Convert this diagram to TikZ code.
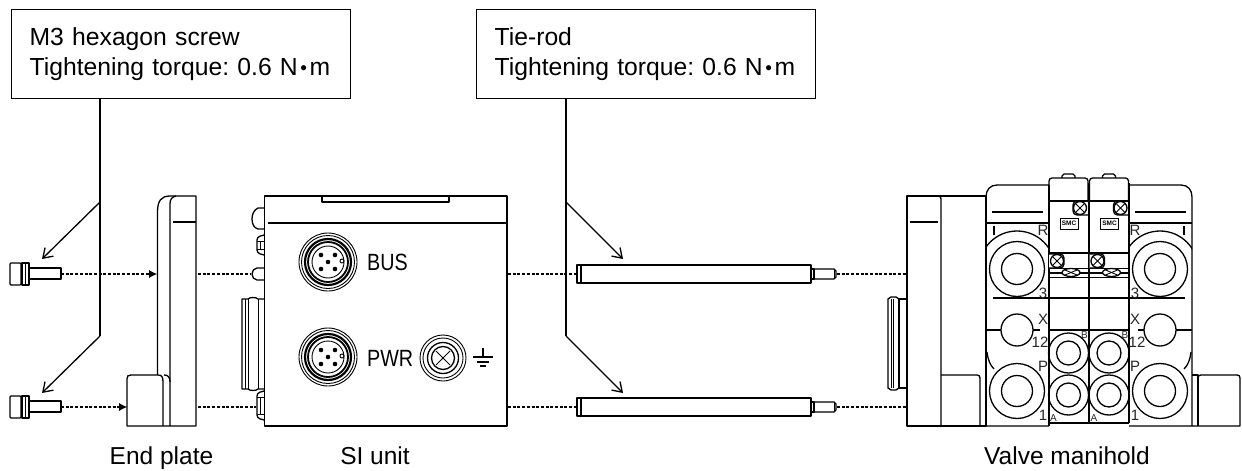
\documentclass[tikz,border=0pt]{standalone}
\usepackage{fontspec}
\setmainfont{Liberation Sans}
\frenchspacing
\usetikzlibrary{arrows.meta}
\newcommand{\nmdot}{N\hspace{2.5pt}\raisebox{0.8pt}{\fontsize{19}{19}\selectfont •}\hspace{2.5pt}m}
\tikzset{
  part/.style={line width=1.3pt, line join=round},
  thinpart/.style={line width=0.9pt},
  callout/.style={draw, line width=1.3pt, anchor=north west, minimum height=89pt, text width=303pt, inner xsep=18pt, align=left, font=\fontsize{24.7}{30}\selectfont},
  leader/.style={line width=1.3pt},
  pointer/.style={line width=1.3pt, -{Straight Barb[length=9pt,width=12pt]}},
  dotline/.style={line width=2.2pt, dash pattern=on 3pt off 1.7pt},
  dotarrow/.style={dotline, -{Latex[length=8pt,width=8pt,line width=0pt]}},
  caption/.style={anchor=base, font=\fontsize{24.5}{28}\selectfont},
  panel/.style={anchor=base west, inner sep=0pt, xscale=0.84, font=\fontsize{23.5}{28}\selectfont},
  port/.style={anchor=center, inner sep=0pt, text=black!85, font=\fontsize{15}{16}\selectfont},
  tinyport/.style={anchor=center, inner sep=0pt, text=black!85, font=\fontsize{10}{10}\selectfont},
  smcbox/.style={draw, line width=1pt, minimum width=18pt, minimum height=11pt, inner sep=0pt, font=\bfseries\fontsize{6.5}{7}\selectfont}
}
\begin{document}
\begin{tikzpicture}[x=1pt, y=-1pt]
    \useasboundingbox (0,0) rectangle (1242,471);

    % Callouts and leaders
    \node[callout] (screwnote) at (11,9) {M3 hexagon screw\\Tightening torque: 0.6 \nmdot};
    \node[callout] (rodnote) at (476,9) {Tie-rod\\Tightening torque: 0.6 \nmdot};
    \coordinate (screwjoin) at (100,202);
    \coordinate (screwtrunk) at (100,336);
    \coordinate (screwtipa) at (42,259);
    \coordinate (screwtipb) at (42,393);
    \coordinate (rodjoin) at (566,202);
    \coordinate (rodtrunk) at (566,336);
    \coordinate (rodtipa) at (623,259);
    \coordinate (rodtipb) at (623,393);
    \draw[leader] (screwnote.south -| screwtrunk) -- (screwtrunk);
    \draw[leader] (rodnote.south -| rodtrunk) -- (rodtrunk);
    \draw[pointer] (screwjoin) -- (screwtipa);
    \draw[pointer] (screwtrunk) -- (screwtipb);
    \draw[pointer] (rodjoin) -- (rodtipa);
    \draw[pointer] (rodtrunk) -- (rodtipb);

    % Dotted assembly lines
    \coordinate (screwenda) at (61,274);
    \coordinate (screwendb) at (61,407);
    \coordinate (platehit) at (157,274);
    \coordinate (foothit) at (127,407);
    \draw[dotarrow] (screwenda) -- (platehit);
    \draw[dotarrow] (screwendb) -- (foothit);
    \foreach \yy/\xa in {274/250, 407/256} {
      \draw[dotline] (198,\yy) -- (\xa,\yy);
      \draw[dotline] (508,\yy) -- (577,\yy);
      \draw[dotline] (837,\yy) -- (906,\yy);
    }

    % Screws
    \foreach \yy in {274,407} {
      \draw[part, rounded corners=1pt] (10,\yy-11) rectangle (21,\yy+11);
      \draw[part] (22,\yy-11) rectangle (29,\yy+11);
      \draw[thinpart] (25,\yy-11) -- (25,\yy+11);
      \draw[part] (29,\yy-6) rectangle (61,\yy+5);
    }

    % Tie-rods
    \foreach \yy in {274,407} {
      \draw[part] (577,\yy-9) rectangle (581,\yy+9);
      \draw[part] (581,\yy-9) rectangle (811,\yy+9);
      \draw[part] (811,\yy-5) -- (814,\yy-5) -- (814,\yy+5) -- (811,\yy+5);
      \draw[part] (814,\yy-5) -- (834,\yy-5) -- (836,\yy-3) -- (836,\yy+3) -- (834,\yy+5) -- (814,\yy+5);
      \draw[thinpart] (834,\yy-5) -- (834,\yy+5);
    }

    % End plate
    \draw[part] (157.5,375) -- (157.5,212) .. controls (157.5,201) and (161,196) .. (170,196) -- (196,196) -- (196,426) -- (127,426) -- (127,379) .. controls (127,376) and (128,375) .. (131,375) -- (158,375);
    \draw[part] (176,196) .. controls (172,197) and (170,199) .. (170,204) -- (170,426);
    \draw[part] (158,375) .. controls (162,375) and (163,377) .. (163,382) -- (163,426);
    \draw[part] (164,375) .. controls (168,375) and (170,377) .. (170,382);
    \draw[part] (173,222) -- (196,222);

    % SI unit body
    \draw[part] (264.5,196) rectangle (507,426);
    \draw[part] (268,223) -- (507,223);
    \draw[part] (322,196) -- (322,202) -- (449,202) -- (449,196);
    \draw[part] (264,208) -- (258,208) .. controls (254,210) and (252,214) .. (252,219) .. controls (252,224) and (254,228) .. (258,229) -- (264,229);
    \draw[part] (264,268) -- (257,268) .. controls (254,268) and (252,271) .. (252,274) .. controls (252,277) and (254,280) .. (257,280) -- (264,280);
    \foreach \ya/\yb in {235/255, 391/420} {
      \draw[part, rounded corners=3pt] (264,\ya) -- (257,\ya+2) -- (257,\yb-2) -- (264,\yb);
      \draw[thinpart] (257,\ya+6) -- (264,\ya+6);
      \draw[thinpart] (257,\yb-6) -- (264,\yb-6);
      \draw[thinpart] (260,\ya+6) -- (260,\yb-6);
    }
    \draw[part] (264,299) -- (258,299) .. controls (256,297) and (250,297) .. (248,299) -- (242,299) -- (242,389) -- (248,389) .. controls (250,391) and (256,391) .. (258,389) -- (264,389);
    \draw[thinpart] (245,299) -- (245,389);
    \draw[thinpart] (248,299) -- (248,389);
    \draw[thinpart] (258,299) -- (258,389);

    % Connectors
    \foreach \yy in {262,357} {
      \draw[thinpart] (328,\yy) circle (29);
      \draw[thinpart] (328,\yy) circle (26.5);
      \draw[line width=2.2pt] (328,\yy) circle (23);
      \draw[line width=1.8pt] (328,\yy) circle (20);
      \draw[thinpart] (328,\yy) circle (16);
      \fill (328,\yy) circle (2.3);
      \foreach \dx/\dy in {-7/-7, 7/-7, -7/7, 7/7} {
        \fill (328+\dx,\yy+\dy) circle (2.3);
      }
      \draw[thinpart] (342,\yy-1) circle (2);
    }
    \node[panel] (buslabel) at (367,270) {BUS};
    \node[panel] (pwrlabel) at (367,366) {PWR};

    % Ground screw
    \draw[thinpart] (443,358) circle (23);
    \draw[thinpart] (443,358) circle (20);
    \draw[line width=1.3pt] (443,358) circle (15.5);
    \draw[line width=1.3pt] (443,358) circle (11.5);
    \draw[thinpart] (436,351) -- (450,365);
    \draw[thinpart] (436,365) -- (450,351);
    \draw[part] (483,348) -- (483,357);
    \draw[part] (473,357) -- (493,357);
    \draw[part] (477,362) -- (489,362);
    \draw[part] (480,366) -- (486,366);

    % Manifold end plate
    \draw[part] (907,196) rectangle (986,426);
    \draw[part] (941,426) -- (941,199) .. controls (941,197) and (940,196) .. (938,196);
    \draw[part] (910,222) -- (938,222);
    \draw[part] (941,375) -- (977,375) .. controls (979,375) and (980,376) .. (980,378) -- (980,426);
    \draw[part] (907,299) -- (899,299) -- (899,388) -- (907,388);
    \draw[part] (899,299) -- (896,297) -- (891,297) -- (888,299) -- (888,388) -- (891,390) -- (896,390) -- (899,388);
    \draw[thinpart] (891,299) -- (891,388);
    \draw[thinpart] (893,299) -- (893,388);

    % Outer blocks of the manifold
    \draw[part] (1049,426) -- (986,426) -- (986,197) .. controls (986,190) and (990,185) .. (997,185) -- (1049,185);
    \draw[part] (1129,426) -- (1192,426) -- (1192,197) .. controls (1192,190) and (1188,185) .. (1181,185) -- (1129,185);
    \draw[part] (986,223) -- (1049,223);
    \draw[part] (1129,223) -- (1192,223);
    \draw[part] (992,212) -- (1043,212);
    \draw[part] (1135,212) -- (1186,212);
    \draw[part] (993,298) -- (1185,298);
    \draw[part] (994,226) -- (994,235);
    \draw[part] (1184,226) -- (1184,235);
    \foreach \cx/\xa/\xb/\xc/\xd in {1017/986/1001/1033/1040, 1160/1176/1192/1138/1144} {
      \begin{scope}
        \clip (\cx-31,224) rectangle (\cx+32,256);
        \draw[part] (\cx,269) circle (38);
      \end{scope}
      \draw[part] (\cx,269) circle (27.5);
      \draw[part] (\cx,269) circle (15.5);
      \draw[part] (\cx,330) circle (16);
      \draw[part] (\xa,330) -- (\xb,330);
      \draw[part] (\xc,330) -- (\xd,330);
      \draw[part] (\cx,391) circle (27.5);
      \draw[part] (\cx,391) circle (15.5);
    }
    \draw[part] (987,352) .. controls (988,360) and (990,365) .. (994,369);
    \draw[part] (1191,352) .. controls (1190,360) and (1188,365) .. (1184,369);
    \draw[part] (1192,375) -- (1198,375) -- (1198,426);
    \draw[part] (1198,378) .. controls (1198,376) and (1199,375) .. (1201,375) -- (1237,375) .. controls (1239,375) and (1240,376) .. (1240,378) -- (1240,426) -- (1192,426);

    % Port letters
    \foreach \px/\qx/\nm in {1043/1040/l, 1135/1137/r} {
      \node[port] (portr\nm) at (\px,230) {R};
      \node[port] (ports\nm) at (\px,293) {3};
      \node[port] (portx\nm) at (\px,319) {X};
      \node[port] (portt\nm) at (\qx,342) {12};
      \node[port] (portp\nm) at (\px,366) {P};
      \node[port] (porto\nm) at (\px,415) {1};
    }

    % Valves
    \draw[part] (1049,185) -- (1049,426);
    \draw[part] (1049,423) -- (1129,423);
    \draw[part] (1089,183) -- (1089,423);
    \draw[part] (1129,183) -- (1129,423);
    \draw[part] (1049,201) -- (1128,201);
    \draw[part] (1049,253) -- (1128,253);
    \draw[thinpart] (1049,268) -- (1128,268);
    \draw[part] (1049,273) -- (1128,273);
    \draw[thinpart] (1049,277) -- (1128,277);
    \draw[part] (1049,298) -- (1128,298);
    \draw[part] (1049,330) -- (1128,330);
    \foreach \xa/\nm in {1049/a, 1089.5/b} {
      \draw[part, rounded corners=3pt] (\xa,200) -- (\xa,178) -- (\xa+39,178) -- (\xa+39,200);
      \draw[part] (\xa+13,178) -- (\xa+13,176) -- (\xa+15,174) -- (\xa+24,174) -- (\xa+26,176) -- (\xa+26,178);
      \node[smcbox] (smc\nm) at (\xa+20,223.5) {SMC};
      \draw[part, rounded corners=4pt] (\xa+39,201) -- (\xa+24,201) -- (\xa+24,215) -- (\xa+39,215);
      \draw[part] (\xa+31,208) circle (6.5);
      \draw[thinpart] (\xa+27,204) -- (\xa+35,212);
      \draw[thinpart] (\xa+27,212) -- (\xa+35,204);
      \draw[part, fill=white, rounded corners=4pt] (\xa,254) -- (\xa+15,254) -- (\xa+15,268) -- (\xa,268);
      \draw[part] (\xa+8,261) circle (6.5);
      \draw[thinpart] (\xa+4,257) -- (\xa+12,265);
      \draw[thinpart] (\xa+4,265) -- (\xa+12,257);
      \draw[part, fill=white] (\xa+22,272.5) ellipse (9 and 4);
      \draw[thinpart] (\xa+16,270) -- (\xa+28,275);
      \draw[thinpart] (\xa+16,275) -- (\xa+28,270);
      \draw[part] (\xa+19.5,353) circle (20);
      \draw[part] (\xa+19.5,353) circle (12);
      \draw[part] (\xa+19.5,395) circle (20);
      \draw[part] (\xa+19.5,395) circle (12);
      \node[tinyport] (portb\nm) at (\xa+35.5,335) {B};
      \node[tinyport] (porta\nm) at (\xa+4.5,418) {A};
    }

    % Captions
    \node[caption] (plateCap) at (161.5,464) {End plate};
    \node[caption] (unitCap) at (375,464) {SI unit};
    \node[caption] (maniCap) at (1067,464) {Valve manihold};
  \end{tikzpicture}
\end{document}
